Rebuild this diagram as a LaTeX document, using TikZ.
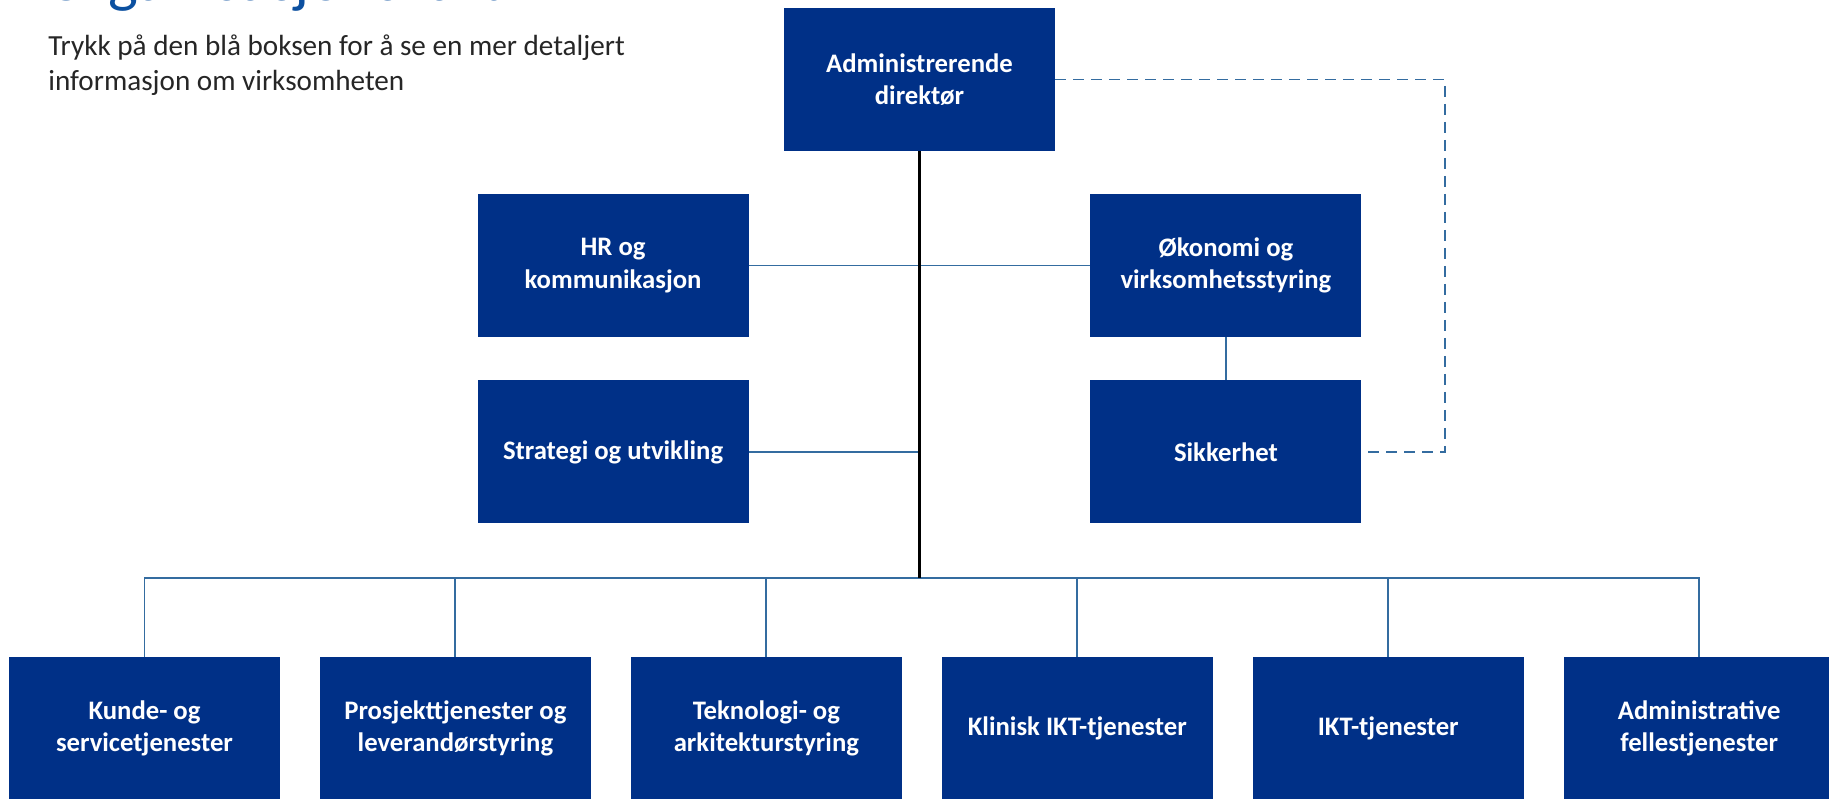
\documentclass[tikz,border=0pt]{standalone}
\usepackage{fontspec}
\setmainfont{Carlito}
\usetikzlibrary{positioning}
\definecolor{boxblue}{RGB}{0,48,135}
\definecolor{lineblue}{RGB}{52,108,160}
\definecolor{titleblue}{RGB}{12,80,160}
\definecolor{bodygray}{RGB}{38,38,38}

\begin{document}
\begin{tikzpicture}[x=0.02cm,y=-0.02cm,on grid,node distance=6.22cm,
    unit/.style={fill=boxblue,text=white,font=\bfseries\fontsize{15.2}{18.6}\selectfont,
      align=center,minimum width=5.42cm,minimum height=2.86cm,inner sep=0pt},
    link/.style={draw=lineblue,line width=1.1pt},
    dashlink/.style={link,dash pattern=on 0.22cm off 0.14cm},
    trunk/.style={draw=black,line width=1.2pt}]
  \useasboundingbox[fill=white] (0,0) rectangle (1829,798);
  \node[anchor=base west,inner sep=0pt,text=titleblue,font=\fontsize{36}{43}\selectfont] (title) at (45,0.5) {Organisasjonskart};
  \node[anchor=base west,inner sep=0pt,align=left,text=bodygray,font=\fontsize{16.6}{19.9}\selectfont] (intro) at (48,90)
    {Trykk på den blå boksen for å se en mer detaljert\\informasjon om virksomheten};
  \node[unit] (adm) at (919.5,79.5) {Administrerende\\direktør};
  \node[unit] (hr) [below left=3.72cm and 6.13cm of adm] {HR og\\kommunikasjon};
  \node[unit] (okonomi) [right=12.26cm of hr] {Økonomi og\\virksomhetsstyring};
  \node[unit] (strategi) [below=3.73cm of hr] {Strategi og utvikling};
  \node[unit] (sikkerhet) [below=3.73cm of okonomi] {Sikkerhet};
  \node[unit] (kunde) at (144.5,728.5) {Kunde- og\\servicetjenester};
  \node[unit] (prosjekt) [right=of kunde] {Prosjekttjenester og\\leverandørstyring};
  \node[unit] (teknologi) [right=of prosjekt] {Teknologi- og\\arkitekturstyring};
  \node[unit] (klinisk) [right=of teknologi] {Klinisk IKT-tjenester};
  \node[unit] (ikt) [right=of klinisk] {IKT-tjenester};
  \node[unit] (fellestj) [right=of ikt] {Administrative\\fellestjenester};
  \coordinate (bus) at (919.5,578);
  \path[link]
    (hr) edge (okonomi)
    (okonomi) edge (sikkerhet)
    (strategi) edge (strategi -| bus);
  \draw[dashlink] (adm.east) -- ++(389.5,0) |- (sikkerhet.east);
  \draw[link] (kunde.north) |- (bus) -| (fellestj.north);
  \foreach \n in {prosjekt,teknologi,klinisk,ikt}
    \draw[link] (\n.north) -- (\n.north |- bus);
  \draw[trunk] (adm) -- (bus);
\end{tikzpicture}
\end{document}
